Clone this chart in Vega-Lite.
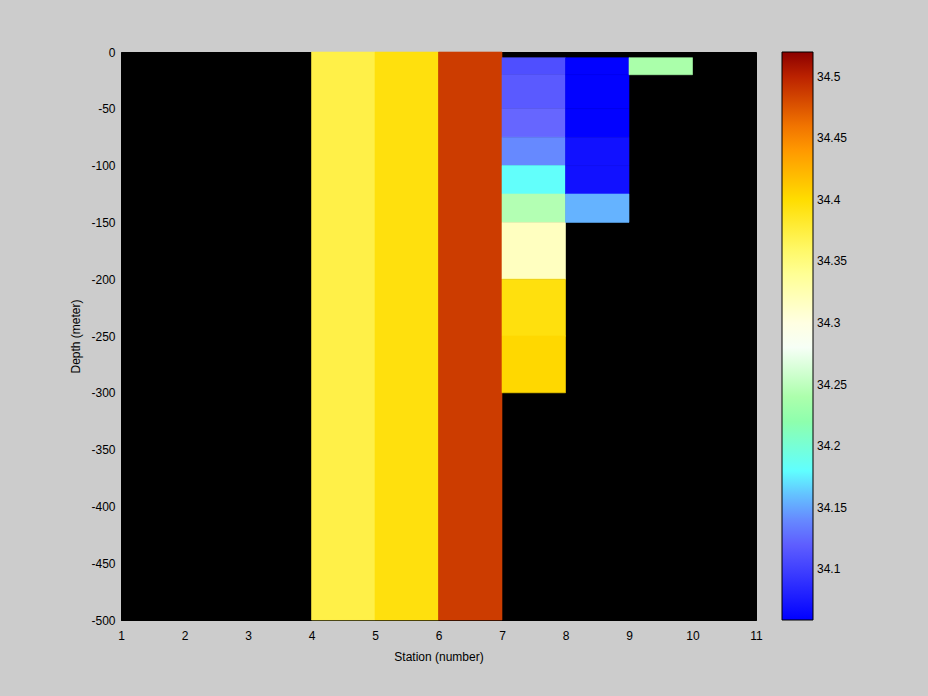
{
  "$schema": "https://vega.github.io/schema/vega-lite/v6.json",
  "width": 635,
  "height": 568,
  "autosize": "none",
  "padding": {"left": 121, "top": 52, "right": 172, "bottom": 76},
  "background": "#cccccc",
  "config": {
    "view": {"fill": "#000000", "stroke": "#000000", "strokeWidth": 1},
    "font": "Liberation Sans",
    "axis": {"labelFont": "Liberation Sans", "titleFont": "Liberation Sans", "labelFontSize": 12, "titleFontSize": 12, "titleFontWeight": "normal", "labelColor": "#000000", "titleColor": "#000000", "domainColor": "#000000", "grid": false, "ticks": false},
    "legend": {"labelFont": "Liberation Sans", "labelFontSize": 12, "labelColor": "#000000"}
  },
  "data": {
    "values": [
      {"s0": 4, "s1": 5, "d0": 0, "d1": -500, "v": 34.372},
      {"s0": 5, "s1": 6, "d0": 0, "d1": -500, "v": 34.395},
      {"s0": 6, "s1": 7, "d0": 0, "d1": -500, "v": 34.4875},
      {"s0": 7, "s1": 8, "d0": -5, "d1": -20, "v": 34.11},
      {"s0": 7, "s1": 8, "d0": -20, "d1": -50, "v": 34.117},
      {"s0": 7, "s1": 8, "d0": -50, "d1": -75, "v": 34.125},
      {"s0": 7, "s1": 8, "d0": -75, "d1": -100, "v": 34.14},
      {"s0": 7, "s1": 8, "d0": -100, "d1": -125, "v": 34.182},
      {"s0": 7, "s1": 8, "d0": -125, "d1": -150, "v": 34.244},
      {"s0": 7, "s1": 8, "d0": -150, "d1": -200, "v": 34.317},
      {"s0": 7, "s1": 8, "d0": -200, "d1": -250, "v": 34.395},
      {"s0": 7, "s1": 8, "d0": -250, "d1": -300, "v": 34.403},
      {"s0": 8, "s1": 9, "d0": -5, "d1": -20, "v": 34.06},
      {"s0": 8, "s1": 9, "d0": -20, "d1": -50, "v": 34.06},
      {"s0": 8, "s1": 9, "d0": -50, "d1": -75, "v": 34.06},
      {"s0": 8, "s1": 9, "d0": -75, "d1": -100, "v": 34.07},
      {"s0": 8, "s1": 9, "d0": -100, "d1": -125, "v": 34.07},
      {"s0": 8, "s1": 9, "d0": -125, "d1": -150, "v": 34.156},
      {"s0": 9, "s1": 10, "d0": -5, "d1": -20, "v": 34.239}
    ]
  },
  "mark": {"type": "rect", "strokeWidth": 0.6},
  "encoding": {
    "x": {"field": "s0", "type": "quantitative", "scale": {"domain": [1, 11], "nice": false, "zero": false},
      "axis": {"title": "Station (number)", "values": [1,2,3,4,5,6,7,8,9,10,11], "labelPadding": 10, "titlePadding": 10, "labelFlush": false}},
    "x2": {"field": "s1"},
    "y": {"field": "d0", "type": "quantitative", "scale": {"domain": [-500, 0], "nice": false, "zero": false},
      "axis": {"title": "Depth (meter)", "values": [0,-50,-100,-150,-200,-250,-300,-350,-400,-450,-500], "labelExpr": "datum.value + ''", "labelPadding": 6, "titlePadding": 8, "labelFlush": false}},
    "y2": {"field": "d1"},
    "color": {"field": "v", "type": "quantitative",
      "scale": {"domain": [34.059, 34.1, 34.125, 34.15, 34.18, 34.23, 34.285, 34.35, 34.4, 34.45, 34.5, 34.52],
        "range": ["#0000ff", "#4040ff", "#6666ff", "#66a0ff", "#60ffff", "#99ff99", "#ffffff", "#ffff80", "#ffdd00", "#ff8800", "#bb2200", "#8b0000"], "interpolate": "rgb", "nice": false, "zero": false, "clamp": true},
      "legend": {"type": "gradient", "title": null, "orient": "none", "legendX": 661, "legendY": 0, "direction": "vertical",
        "gradientLength": 568, "gradientThickness": 31, "gradientStrokeColor": "#000000", "gradientStrokeWidth": 1,
        "values": [34.1, 34.15, 34.2, 34.25, 34.3, 34.35, 34.4, 34.45, 34.5], "format": "~g", "labelOverlap": false, "labelOffset": 4, "padding": 0, "offset": 0}},
    "stroke": {"field": "v", "type": "quantitative",
      "scale": {"domain": [34.0589, 34.1, 34.125, 34.15, 34.18, 34.23, 34.285, 34.35, 34.4, 34.45, 34.5, 34.5201],
        "range": ["#0000ff", "#4040ff", "#6666ff", "#66a0ff", "#60ffff", "#99ff99", "#ffffff", "#ffff80", "#ffdd00", "#ff8800", "#bb2200", "#8b0000"], "interpolate": "rgb", "nice": false, "zero": false, "clamp": true},
      "legend": null}
  }
}
